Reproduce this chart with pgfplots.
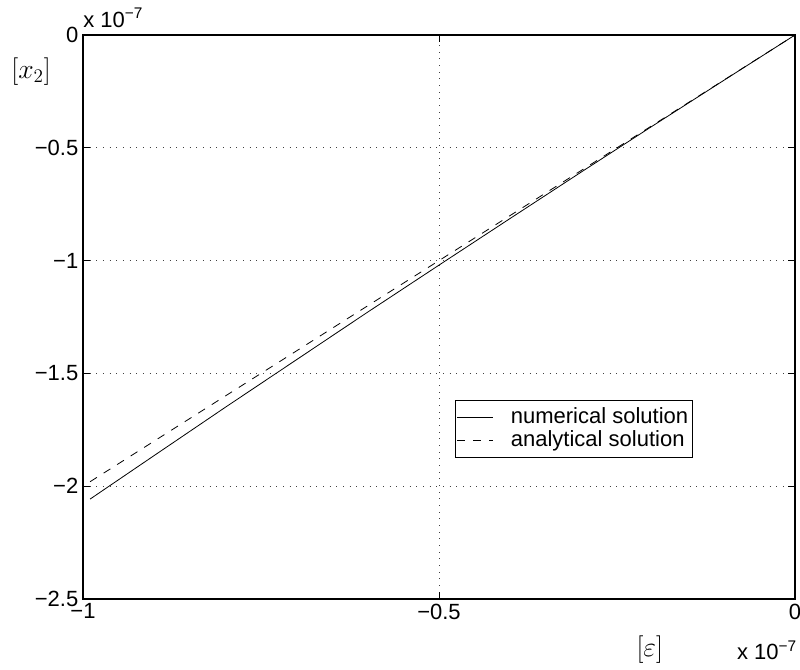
\documentclass[border=0pt]{standalone}
\usepackage{fontspec}
\setmainfont{Liberation Sans}
\usepackage{pgfplots}
\pgfplotsset{compat=1.18}

% numerical and analytical solution, values in units of 1e-7
\pgfplotstableread{
x      y
-0.99  -2.057
-0.9   -1.864
-0.8   -1.650
-0.7   -1.439
-0.6   -1.228
-0.5   -1.020
-0.4   -0.813
-0.3   -0.607
-0.2   -0.403
-0.1   -0.201
0       0
}\numerical
\pgfplotstableread{
x      y
-0.99  -1.98
0       0
}\analytical

\begin{document}
\begin{tikzpicture}[font=\fontsize{16.5pt}{19pt}\selectfont]
\useasboundingbox (-62.25pt,-52.5pt) rectangle (537.75pt,449.25pt);
\begin{axis}[
    at={(0,0)}, anchor=south west,
    scale only axis,
    width=534pt, height=423pt,
    xmin=-1, xmax=0,
    ymin=-2.5, ymax=0,
    xtick={-1,-0.5,0},
    xticklabels={−1,−0.5,0},
    ytick={-2.5,-2,-1.5,-1,-0.5,0},
    yticklabels={−2.5,−2,−1.5,−1,−0.5,0},
    scaled ticks=false,
    tick align=inside,
    major tick length=5pt,
    axis line style={line width=0.8pt},
    every tick/.style={black, line width=0.6pt},
    grid=major,
    major grid style={black!75, line width=0.6pt, dash pattern=on 0.6pt off 4.4pt},
    xlabel={$[\varepsilon]$},
    xlabel style={at={(axis description cs:0.796,-0.09)}, anchor=center, font=\fontsize{20pt}{22pt}\selectfont},
    legend style={at={(0.5225,0.3528)}, anchor=north west, draw=black, line width=0.6pt,
        font=\fontsize{16.5pt}{18pt}\selectfont, inner xsep=1pt, inner ysep=4pt, row sep=0pt,
        nodes={text height=12pt, text depth=3.5pt, inner ysep=1pt},
        /tikz/every odd column/.append style={column sep=11pt}},
    legend cell align=left,
    legend image code/.code={\draw[#1] plot coordinates {(6pt,0pt) (33pt,0pt)};},
    clip=false,
]
\addplot[black, line width=0.6pt] table[x=x,y=y] {\numerical};
\addlegendentry{numerical solution}
\addplot[black, line width=0.6pt, dash pattern=on 6pt off 6pt] table[x=x,y=y] {\analytical};
\addlegendentry{analytical solution}
\node[anchor=center, font=\fontsize{20pt}{22pt}\selectfont] at (axis description cs:-0.073,0.935) {$[x_2]$};
\node[anchor=base west, inner sep=0pt] at (axis description cs:0,1.014) {x 10\textsuperscript{−7}};
\node[anchor=base east, inner sep=0pt] at (axis description cs:1.003,-0.108) {x 10\textsuperscript{−7}};
\end{axis}
\end{tikzpicture}
\end{document}
